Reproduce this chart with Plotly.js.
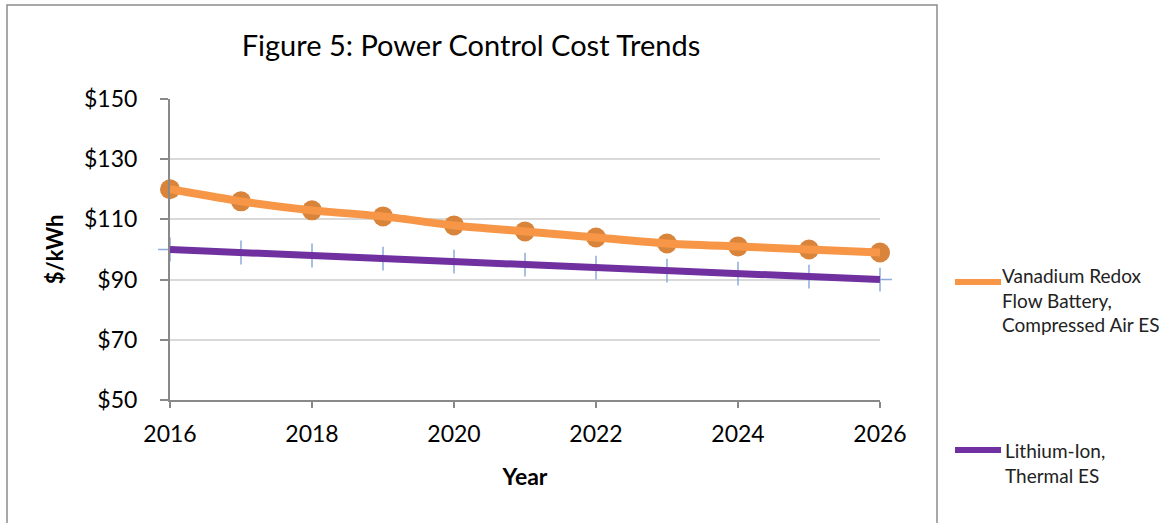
<!DOCTYPE html>
<html>
<head>
<meta charset="utf-8">
<script src="https://cdn.plot.ly/plotly-3.0.1.min.js"></script>
<style>html,body{margin:0;padding:0;background:#fff;}#chart{width:1166px;height:523px;}</style>
</head>
<body>
<div id="chart"></div>
<script>
const years = [2016, 2017, 2018, 2019, 2020, 2021, 2022, 2023, 2024, 2025, 2026];
const vanadiumCost = [120, 116, 113, 111, 108, 106, 104, 102, 101, 100, 99];
const lithiumCost = [100, 99, 98, 97, 96, 95, 94, 93, 92, 91, 90];
const seriesNames = ["Vanadium Redox<br>Flow Battery,<br>Compressed Air ES", "Lithium-Ion,<br>Thermal ES"];
const yTickVals = [50, 70, 90, 110, 130, 150];
const yTickText = ["$50", "$70", "$90", "$110", "$130", "$150"];
const xTickVals = [2016, 2018, 2020, 2022, 2024, 2026];

const FONT = "Lato, 'Open Sans', sans-serif";
const ORANGE = "#f79646", ORANGE_MK = "#d9843b", PURPLE = "#7030a0", PLUS = "#8eaadb";

// plot area in px: x 170..880, y 99..400
const L = 170, R = 880, T = 99, B = 400;
const px = v => (v - L) / (R - L);
const py = v => (B - v) / (B - T);

const traces = [
  {x: years, y: lithiumCost, mode: "markers", cliponaxis: false, hoverinfo: "skip",
   marker: {symbol: "cross-thin", size: 17, line: {color: PLUS, width: 1.5}}},
  {x: years, y: lithiumCost, mode: "lines", cliponaxis: false, name: seriesNames[1],
   line: {color: PURPLE, width: 7}},
  {x: years, y: vanadiumCost, mode: "markers", cliponaxis: false, hoverinfo: "skip",
   marker: {symbol: "circle", size: 20, color: ORANGE_MK}},
  {x: years, y: vanadiumCost, mode: "lines", cliponaxis: false, name: seriesNames[0],
   line: {color: ORANGE, width: 8, shape: "spline", smoothing: 0.6}}
];

const layout = {
  width: 1166, height: 523,
  margin: {l: L, r: 1166 - R, t: T, b: 523 - B},
  paper_bgcolor: "#fff", plot_bgcolor: "#fff",
  showlegend: false,
  font: {family: FONT, color: "#000"},
  title: {text: "Figure 5: Power Control Cost Trends", font: {family: FONT, size: 29, color: "#000"},
          xref: "container", x: 471/1166, xanchor: "center", yref: "container", y: 1 - 46/523, yanchor: "middle"},
  xaxis: {range: [2016, 2026], tickvals: xTickVals, ticktext: xTickVals.map(String),
          showgrid: false, zeroline: false, showline: true, linecolor: "#898989", linewidth: 2,
          ticks: "outside", ticklen: 6, tickwidth: 2, tickcolor: "#898989",
          tickfont: {size: 23, family: FONT, color: "#000"}, ticklabelstandoff: 6,
          title: {text: "<b>Year</b>", font: {size: 23, family: FONT, color: "#000"}, standoff: 23}},
  yaxis: {range: [50, 150], tickvals: yTickVals, ticktext: yTickText,
          showgrid: true, gridcolor: "#d9d9d9", gridwidth: 2, zeroline: false,
          showline: true, linecolor: "#898989", linewidth: 2,
          ticks: "outside", ticklen: 8, tickwidth: 2, tickcolor: "#898989",
          tickfont: {size: 23, family: FONT, color: "#000"}, ticklabelstandoff: 18,
          title: {text: "<b>$/kWh</b>", font: {size: 22, family: FONT, color: "#000"}, standoff: 14}},
  shapes: [
    {type: "rect", xref: "paper", yref: "paper", x0: px(7), x1: px(937), y0: py(540), y1: py(5),
     line: {color: "#8c8c8c", width: 1.5}, fillcolor: "rgba(0,0,0,0)", layer: "below"},
    {type: "line", xref: "paper", yref: "paper", x0: px(955), x1: px(1001), y0: py(282), y1: py(282),
     line: {color: ORANGE, width: 6}},
    {type: "line", xref: "paper", yref: "paper", x0: px(955), x1: px(1001), y0: py(450), y1: py(450),
     line: {color: PURPLE, width: 6}}
  ],
  annotations: [
    {xref: "paper", yref: "paper", x: px(1000), y: py(262), xanchor: "left", yanchor: "top", align: "left",
     showarrow: false, text: seriesNames[0], font: {family: FONT, size: 19, color: "#222"}},
    {xref: "paper", yref: "paper", x: px(1003), y: py(437), xanchor: "left", yanchor: "top", align: "left",
     showarrow: false, text: seriesNames[1], font: {family: FONT, size: 19, color: "#222"}}
  ]
};

Plotly.newPlot("chart", traces, layout, {staticPlot: true, displayModeBar: false});
</script>
</body>
</html>
